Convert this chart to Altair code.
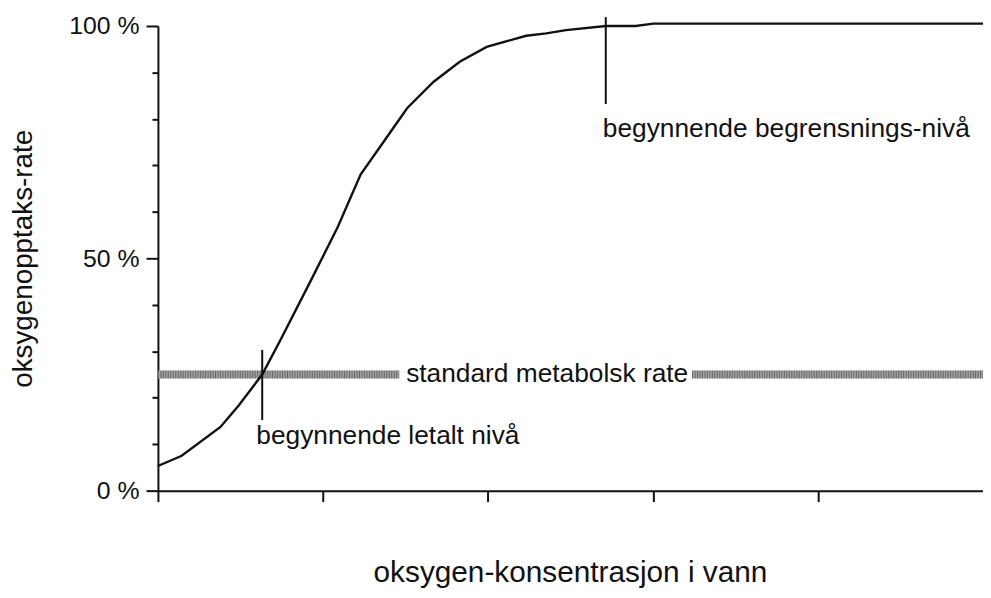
import altair as alt
import pandas as pd

# curve (x in concentration units 0-5, y in % of max uptake)
curve_x = [0, 0.144, 0.379, 0.487, 0.632, 0.748, 0.928, 1.089, 1.229, 1.370,
           1.510, 1.671, 1.829, 1.992, 2.232, 2.353, 2.473, 2.714, 2.894, 3.002, 5.0]
curve_y = [5.3, 7.5, 13.7, 18.2, 25.0, 32.8, 45.3, 56.7, 68.1, 75.2,
           82.3, 88.0, 92.3, 95.5, 97.9, 98.4, 99.1, 100.0, 100.0, 100.5, 100.5]

# standard metabolic rate band (two segments around its label)
band_x1 = [0.0, 3.237]
band_x2 = [1.462, 5.0]
band_level = 25

# vertical marker lines
marker_x = [0.632, 2.714]
marker_y1 = [30.3, 101.9]
marker_y2 = [15.2, 83.2]

# annotation labels
label_text = ["begynnende letalt nivå", "begynnende begrensnings-nivå"]
label_x = [0.596, 2.696]
label_y = [10.0, 76.1]
band_label = "standard metabolsk rate"
band_label_x = 2.359

y_ticks = [0, 10, 20, 30, 40, 50, 60, 70, 80, 90, 100]
x_ticks = [0, 1, 2, 3, 4]

FONT = "Liberation Sans"
INK = "#111111"

curve_df = pd.DataFrame({"x": curve_x, "y": curve_y})
band_df = pd.DataFrame({"x": band_x1, "x2": band_x2, "y": [band_level] * len(band_x1)})
marker_df = pd.DataFrame({"x": marker_x, "y": marker_y1, "y2": marker_y2})
label_df = pd.DataFrame({"x": label_x, "y": label_y, "t": label_text})
band_label_df = pd.DataFrame({"x": [band_label_x], "y": [band_level], "t": [band_label]})

xs = alt.Scale(domain=[0, 5], nice=False, zero=False)
ys = alt.Scale(domain=[0, 100], nice=False, zero=False)

x_axis = alt.Axis(
    values=x_ticks, labels=False, grid=False, tickSize=11, tickWidth=2,
    domainWidth=2, domainColor=INK, tickColor=INK,
    title="oksygen-konsentrasjon i vann", titleFont=FONT, titleFontSize=30,
    titleFontWeight="normal", titleColor=INK,
    titleX=415, titleY=92, titleAlign="center", titleBaseline="alphabetic",
)
y_axis = alt.Axis(
    values=y_ticks, grid=False,
    tickSize={"condition": {"test": "datum.value % 50 === 0", "value": 12}, "value": 6},
    tickWidth=2, domainWidth=2, domainColor=INK, tickColor=INK,
    labelExpr="datum.value % 50 === 0 ? datum.value + ' %' : ''",
    labelFont=FONT, labelFontSize=25, labelColor=INK, labelPadding=7,
    title="oksygenopptaks-rate", titleFont=FONT, titleFontSize=28,
    titleFontWeight="normal", titleColor=INK,
    titleX=-127, titleY=234, titleAlign="center", titleBaseline="alphabetic",
)

X = lambda: alt.X("x:Q", scale=xs)
Y = lambda: alt.Y("y:Q", scale=ys)

band_base = alt.Chart(band_df).mark_rule(color="#a2a2a2", strokeWidth=8).encode(
    x=alt.X("x:Q", scale=xs, axis=x_axis), x2="x2:Q", y=alt.Y("y:Q", scale=ys, axis=y_axis)
)
band_hatch = alt.Chart(band_df).mark_rule(
    color="#555555", strokeWidth=8, strokeDash=[1, 1.5], opacity=0.75
).encode(x=X(), x2="x2:Q", y=Y())
line = alt.Chart(curve_df).mark_line(color=INK, strokeWidth=2.4).encode(x=X(), y=Y())
markers = alt.Chart(marker_df).mark_rule(color=INK, strokeWidth=2).encode(
    x=X(), y=Y(), y2="y2:Q"
)
labels = alt.Chart(label_df).mark_text(
    font=FONT, fontSize=26.5, align="left", baseline="alphabetic", color=INK
).encode(x=X(), y=Y(), text="t:N")
band_label_mark = alt.Chart(band_label_df).mark_text(
    font=FONT, fontSize=26.5, align="center", baseline="middle", color=INK
).encode(x=X(), y=Y(), text="t:N")

chart = alt.layer(band_base, band_hatch, line, markers, labels, band_label_mark).properties(
    width=831, height=468,
    background="white",
    autosize=alt.AutoSizeParams(type="none"),
    padding={"left": 151, "top": 16, "right": 0, "bottom": 105},
).configure_view(stroke=None, strokeWidth=0).configure_axis(grid=False)

chart.save("out.html", embed_options={"renderer": "svg", "actions": False})
